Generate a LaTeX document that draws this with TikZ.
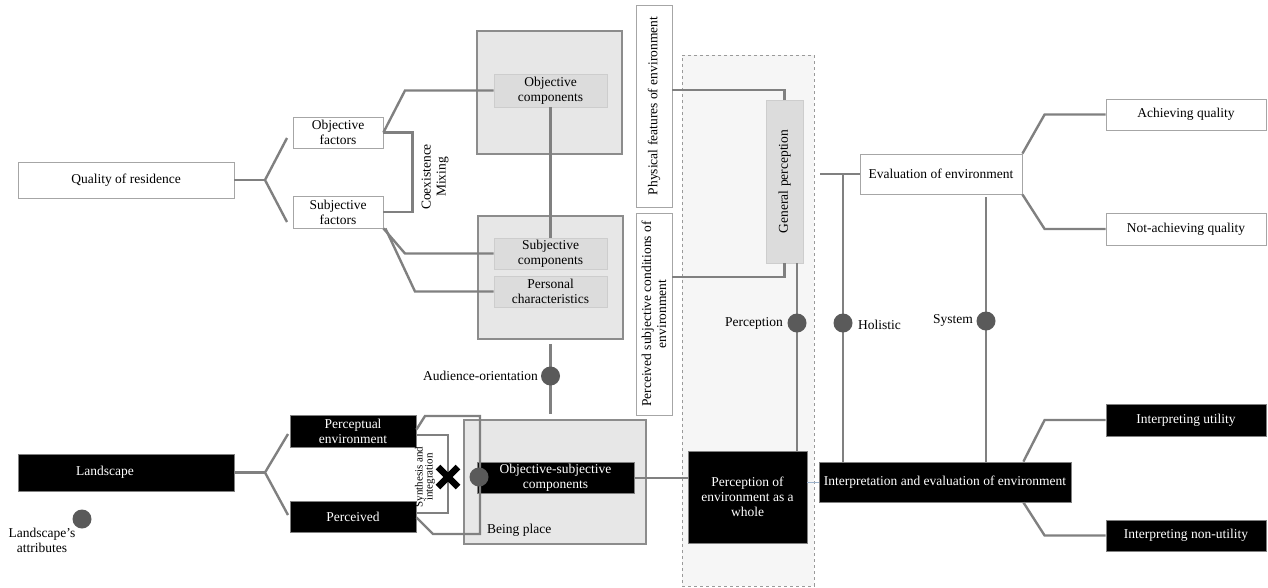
\documentclass[tikz,border=0pt]{standalone}
\usepackage{fontspec}
\setmainfont{Liberation Serif}
\usetikzlibrary{calc}
\definecolor{lgray}{HTML}{808080}
\definecolor{bordergray}{HTML}{A6A6A6}
\definecolor{biggray}{HTML}{8C8C8C}
\definecolor{bigfill}{HTML}{E7E7E7}
\definecolor{compfill}{HTML}{DCDCDC}
\definecolor{compline}{HTML}{CDCDCD}
\definecolor{panelfill}{HTML}{F6F6F6}
\definecolor{panelline}{HTML}{9A9A9A}
\definecolor{dotgray}{HTML}{5A5A5A}
\definecolor{thinblue}{HTML}{9DB3CC}
\begin{document}
\begin{tikzpicture}[x=1pt,y=-1pt,font=\fontsize{13.5}{15}\selectfont,
  wbox/.style={draw=bordergray,fill=white,line width=0.8pt,inner sep=0pt,align=center},
  bbox/.style={draw=lgray,fill=black,text=white,line width=0.8pt,inner sep=0pt,align=center},
  gbig/.style={draw=biggray,fill=bigfill,line width=1.5pt,inner sep=0pt},
  comp/.style={draw=compline,fill=compfill,line width=0.8pt,inner sep=0pt,align=center},
  conn/.style={draw=lgray,line width=2.4pt},
  gdot/.style={circle,fill=dotgray,minimum size=19pt,inner sep=0pt},
  lbl/.style={inner sep=1pt,align=center}]
\useasboundingbox (0,0) rectangle (1268,587);
% background panels
\node[draw=panelline,fill=panelfill,dashed,line width=0.8pt,minimum width=132pt,minimum height=531pt,inner sep=0pt] (panel) at (748,320.5) {};
\node[gbig,minimum width=145pt,minimum height=123pt] (topg) at (549.5,92.5) {};
\node[gbig,minimum width=145pt,minimum height=123pt] (botg) at (550.5,277.5) {};
\node[gbig,minimum width=182pt,minimum height=124pt] (bplace) at (555,482) {};
% boxes
\node[wbox,minimum width=216pt,minimum height=36pt] (qual) at (126,180) {Quality of residence};
\node[wbox,minimum width=90pt,minimum height=31pt] (objf) at (338,132.5) {Objective\\factors};
\node[wbox,minimum width=90pt,minimum height=32pt] (subf) at (338,212) {Subjective\\factors};
\node[comp,minimum width=113pt,minimum height=33pt] (objc) at (550.5,90.5) {Objective\\components};
\node[comp,minimum width=113pt,minimum height=31pt] (subc) at (550.5,253.5) {Subjective\\components};
\node[comp,minimum width=113pt,minimum height=31pt] (pers) at (550.5,291.5) {Personal\\characteristics};
\node[wbox,rotate=90,minimum width=202pt,minimum height=36pt] (phys) at (654,106) {Physical features of environment};
\node[wbox,rotate=90,minimum width=202pt,minimum height=36pt] (perc) at (654,314) {Perceived subjective conditions of\\environment};
\node[comp,rotate=90,minimum width=163pt,minimum height=37pt] (genp) at (784.5,181.5) {General perception};
\node[bbox,minimum width=119pt,minimum height=92pt] (penv) at (747.5,497) {Perception of\\environment as a\\whole};
\node[wbox,minimum width=162pt,minimum height=40pt] (eval) at (941,174) {Evaluation of environment};
\node[wbox,minimum width=160pt,minimum height=31pt] (achq) at (1186,114.5) {Achieving quality};
\node[wbox,minimum width=160pt,minimum height=32pt] (nachq) at (1186,229) {Not-achieving quality};
\node[bbox,minimum width=252pt,minimum height=40pt] (interp) at (945,482) {Interpretation and evaluation of environment};
\node[bbox,minimum width=160pt,minimum height=32pt] (iutil) at (1186,420) {Interpreting utility};
\node[bbox,minimum width=160pt,minimum height=31pt] (inutil) at (1186,535.5) {Interpreting non-utility};
\node[bbox,minimum width=216pt,minimum height=37pt] (land) at (126,472.5) {\hspace*{-42pt}Landscape};
\node[bbox,minimum width=126pt,minimum height=32pt] (pcenv) at (353,431) {Perceptual\\environment};
\node[bbox,minimum width=126pt,minimum height=31pt] (pcvd) at (353,516.5) {Perceived};
\node[bbox,minimum width=157pt,minimum height=31pt] (osc) at (555.5,477.5) {Objective-subjective\\components};
% connectors left top
\coordinate (fq) at (265,180);
\coordinate (fqa) at (287,138);
\coordinate (fqb) at (287,222);
\draw[conn] (qual.east) -- (fq);
\draw[conn] (fqa) -- (fq) -- (fqb);
\draw[conn] (objf.east) -- ++(29,0) |- (subf.east);
\draw[conn] (objf.east) -- (405,90.5) -- (objc.west);
\draw[conn] (subf.south east) -- (405,253.5) -- (subc.west);
\draw[conn] ([xshift=2pt]subf.south east) -- (415,291.5) -- (pers.west);
\draw[conn] (objc.south) -- (subc.north);
\node[lbl,rotate=90] (coex) at (435,177) {Coexistence\\Mixing};
% audience orientation
\draw[conn,shorten <=4pt,shorten >=5pt] (botg.south) -- (bplace.north -| botg.south);
\node[gdot] (dao) at (550.5,376) {};
\node[lbl,anchor=east] (lao) at (539,376) {Audience-orientation};
% general perception
\draw[conn] ([yshift=16pt]phys.south) -| (genp.east);
\draw[conn] ([yshift=37pt]perc.south) -| (genp.west);
\coordinate (gp) at ([xshift=12.5pt]genp.west);
\draw[conn] (gp) -- (gp |- penv.north);
\node[gdot] (dpe) at (797,323) {};
\node[lbl,anchor=east] (lpe) at (784,323) {Perception};
% holistic
\coordinate (hl) at (820,174);
\coordinate (hv) at (843,174);
\draw[conn] (hl) -- (eval.west);
\draw[conn] (hv) -- (hv |- interp.north);
\node[gdot] (dho) at (843,323) {};
\node[lbl,anchor=west] (lho) at (857,325) {Holistic};
% system
\coordinate (sy) at (986,197);
\draw[conn] (sy) -- (sy |- interp.north);
\node[gdot] (dsy) at (986,321) {};
\node[lbl,anchor=east] (lsy) at (974,320) {System};
% evaluation forks
\draw[conn] (eval.north east) -- ($(achq.west)+(-61,0)$) -- (achq.west);
\draw[conn] (eval.south east) -- ($(nachq.west)+(-61,0)$) -- (nachq.west);
\draw[conn] ([xshift=-48pt]interp.north east) -- ($(iutil.west)+(-61,0)$) -- (iutil.west);
\draw[conn] ([xshift=-48pt]interp.south east) -- ($(inutil.west)+(-61,0)$) -- (inutil.west);
\draw[thinblue,line width=0.8pt] (penv.east |- interp.west) -- (interp.west);
\draw[conn,line width=2pt] (osc.east) -- (osc.east -| penv.west);
% landscape
\coordinate (fl) at (265,472.5);
\coordinate (fla) at (288,434);
\coordinate (flb) at (288,515);
\draw[conn] (land.east) -- (fl);
\draw[conn] (fla) -- (fl) -- (flb);
% synthesis
\draw[conn] ([yshift=-15pt]pcenv.north east) -- (425,416) -- (480,416) -- (480,534) -- (433,534) -- ([yshift=15pt]pcvd.south east);
\draw[conn] ([yshift=-4pt]pcenv.east) -- (448,435) -- (448,513) -- ([yshift=3.5pt]pcvd.east);
\draw[line width=6.5pt] (438,467) -- (458,487) (438,487) -- (458,467);
\node[lbl,rotate=90,font=\fontsize{11}{10}\selectfont] (syn) at (425,477) {Synthesis and\\integration};
\node[gdot] (dbp) at (479,477) {};
\node[lbl,anchor=west] (lbp) at (486,530) {Being place};
% landscape attributes
\node[gdot] (dla) at (82,519) {};
\node[lbl] (lla) at (42,540) {Landscape's\\attributes};
\end{tikzpicture}
\end{document}
